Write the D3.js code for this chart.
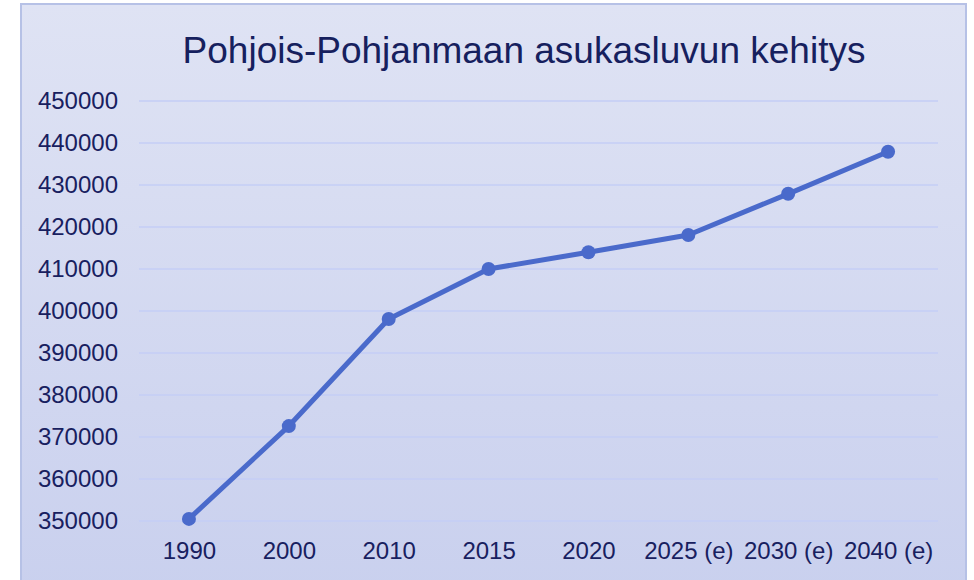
<!DOCTYPE html>
<html>
<head>
<meta charset="utf-8">
<script src="https://cdn.jsdelivr.net/npm/d3@7"></script>
<style>
  body { margin: 0; background: #fff; }
  svg { display: block; font-family: "Liberation Sans", Arial, sans-serif; }
</style>
</head>
<body>
<div id="chart"></div>
<script>
// Data
var years = ["1990", "2000", "2010", "2015", "2020", "2025 (e)", "2030 (e)", "2040 (e)"];
var population = [350500, 372600, 398100, 410000, 414000, 418100, 427900, 437900];
var yTicks = [350000, 360000, 370000, 380000, 390000, 400000, 410000, 420000, 430000, 440000, 450000];

var width = 974, height = 580;
var margin = { top: 101, right: 36, bottom: 59, left: 139 };

var svg = d3.select("#chart").append("svg")
    .attr("width", width)
    .attr("height", height);

// Background gradient
var defs = svg.append("defs");
var grad = defs.append("linearGradient")
    .attr("id", "bg")
    .attr("x1", 0).attr("y1", 0).attr("x2", 0).attr("y2", 1);
grad.append("stop").attr("offset", "0%").attr("stop-color", "#dfe3f4");
grad.append("stop").attr("offset", "100%").attr("stop-color", "#c9d0ee");

svg.append("rect")
    .attr("x", 21).attr("y", 4)
    .attr("width", 945).attr("height", 590)
    .attr("fill", "url(#bg)")
    .attr("stroke", "#b6c1e6")
    .attr("stroke-width", 2);

// Scales
var x = d3.scalePoint()
    .domain(years)
    .range([margin.left, width - margin.right])
    .padding(0.5);

var y = d3.scaleLinear()
    .domain([350000, 450000])
    .range([521, margin.top]);

// Gridlines
svg.append("g")
    .selectAll("line")
    .data(yTicks).enter()
    .append("line")
    .attr("x1", margin.left)
    .attr("x2", width - margin.right)
    .attr("y1", function (d) { return y(d); })
    .attr("y2", function (d) { return y(d); })
    .style("stroke", "#c4cef6")
    .style("stroke-width", 1.5);

// Y axis labels
var yAxis = svg.append("g")
    .attr("transform", "translate(" + 118 + ",0)")
    .call(d3.axisLeft(y).tickValues(yTicks).tickSize(0).tickPadding(0).tickFormat(d3.format("d")));
yAxis.select(".domain").remove();
yAxis.selectAll("text")
    .style("font-size", "24px")
    .style("fill", "#18205f")
    .style("font-family", "Liberation Sans, Arial, sans-serif");

// X axis labels
var xAxis = svg.append("g")
    .attr("transform", "translate(0," + 542 + ")")
    .call(d3.axisBottom(x).tickSize(0).tickPadding(0));
xAxis.select(".domain").remove();
xAxis.selectAll("text")
    .style("font-size", "24px")
    .style("fill", "#18205f")
    .style("font-family", "Liberation Sans, Arial, sans-serif");

// Line
var line = d3.line()
    .x(function (d, i) { return x(years[i]); })
    .y(function (d) { return y(d); });

svg.append("path")
    .datum(population)
    .attr("d", line)
    .style("fill", "none")
    .style("stroke", "#4a6acb")
    .style("stroke-width", 5)
    .style("stroke-linejoin", "round");

// Markers
svg.append("g")
    .selectAll("circle")
    .data(population).enter()
    .append("circle")
    .attr("cx", function (d, i) { return x(years[i]); })
    .attr("cy", function (d) { return y(d); })
    .attr("r", 7)
    .style("fill", "#4a6acb");

// Title
svg.append("text")
    .attr("x", 524)
    .attr("y", 63)
    .attr("text-anchor", "middle")
    .style("font-size", "37px")
    .style("fill", "#16205e")
    .text("Pohjois-Pohjanmaan asukasluvun kehitys");
</script>
</body>
</html>
